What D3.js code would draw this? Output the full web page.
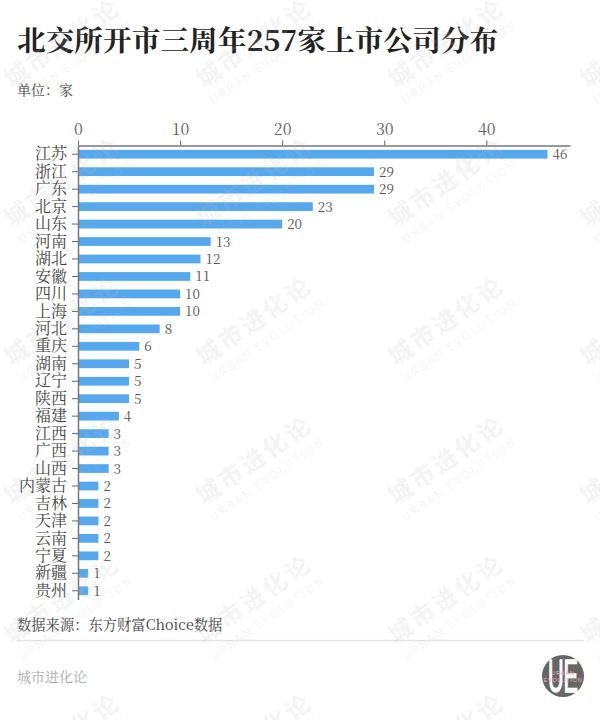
<!DOCTYPE html>
<html>
<head>
<meta charset="utf-8">
<script src="https://cdn.jsdelivr.net/npm/d3@7"></script>
<style>
    html, body { margin: 0; padding: 0; background: #fff; }
    svg { display: block; }
    text { font-family: "Noto Serif CJK SC", "Liberation Serif", "DejaVu Serif", "Noto Sans CJK SC", serif; }
</style>
</head>
<body>
<div id="chart"></div>
<script>
    const provinces = ["江苏", "浙江", "广东", "北京", "山东", "河南", "湖北", "安徽", "四川", "上海", "河北", "重庆", "湖南", "辽宁", "陕西", "福建", "江西", "广西", "山西", "内蒙古", "吉林", "天津", "云南", "宁夏", "新疆", "贵州"];
    const companies = [46, 29, 29, 23, 20, 13, 12, 11, 10, 10, 8, 6, 5, 5, 5, 4, 3, 3, 3, 2, 2, 2, 2, 2, 1, 1];
    const xTicks = [0, 10, 20, 30, 40];

    const titleText = "北交所开市三周年257家上市公司分布";
    const unitText = "单位：家";
    const sourceText = "数据来源：东方财富Choice数据";
    const brandText = "城市进化论";
    const brandEnglish = "URBAN EVOLUTION";

    const width = 600, height = 720;
    const sansFont = "'Noto Sans CJK SC', 'Liberation Sans', sans-serif";
    const svg = d3.select("#chart").append("svg").attr("width", width).attr("height", height);

    svg.append("text").attr("x", 17).attr("y", 51).attr("font-size", 28.7).attr("font-weight", 700)
        .attr("fill", "#222").text(titleText);
    svg.append("text").attr("x", 17).attr("y", 95).attr("font-size", 14).attr("fill", "#444").text(unitText);

    const x = d3.scaleLinear().domain([0, 48.2]).range([78, 570]);
    const y = d3.scaleBand().domain(provinces).range([145.5, 599.5]).paddingInner(0.5).paddingOuter(0.25);

    svg.append("g").selectAll("rect").data(companies).join("rect")
        .attr("x", x(0))
        .attr("y", function(d, i) { return y(provinces[i]); })
        .attr("width", function(d) { return x(d) - x(0); })
        .attr("height", y.bandwidth())
        .attr("fill", "#55a8ee");

    svg.append("g").selectAll("text").data(companies).join("text")
        .attr("x", function(d) { return x(d) + 5; })
        .attr("y", function(d, i) { return y(provinces[i]) + y.bandwidth() / 2 + 5; })
        .attr("font-size", 13.5).attr("fill", "#555")
        .text(function(d) { return d; });

    const xAxis = svg.append("g").attr("transform", "translate(0,145.5)")
        .call(d3.axisTop(x).tickValues(xTicks).tickSize(5).tickSizeOuter(0).tickPadding(6));
    xAxis.select(".domain").attr("stroke", "#777").attr("stroke-width", 1.5);
    xAxis.selectAll(".tick line").attr("stroke", "#666");
    xAxis.selectAll(".tick text").attr("font-size", 16).attr("fill", "#666");

    const yAxis = svg.append("g").attr("transform", "translate(78,0)")
        .call(d3.axisLeft(y).tickSize(6).tickSizeOuter(0).tickPadding(5));
    yAxis.select(".domain").attr("stroke", "#777").attr("stroke-width", 1.5);
    yAxis.selectAll(".tick line").attr("stroke", "#666");
    yAxis.selectAll(".tick text").attr("font-size", 16).attr("fill", "#444");

    svg.append("text").attr("x", 17).attr("y", 630).attr("font-size", 14.3).attr("fill", "#444").text(sourceText);
    svg.append("line").attr("x1", 17).attr("x2", 584).attr("y1", 640.5).attr("y2", 640.5)
        .attr("stroke", "#e6e6e6").attr("stroke-width", 1.5);
    svg.append("text").attr("x", 17).attr("y", 682).attr("font-size", 14).attr("fill", "#aaa").text(brandText);

    // round logo, bottom right
    const logo = svg.append("g").attr("transform", "translate(563,676)");
    logo.append("circle").attr("r", 21).attr("fill", "#666");
    logo.append("text").attr("text-anchor", "middle").attr("transform", "translate(0,16) scale(0.47,1)")
        .attr("font-size", 46).attr("fill", "#fff").attr("stroke", "#fff").attr("stroke-width", 1.5)
        .style("font-family", "'Liberation Sans', sans-serif").text("UE");
    logo.selectAll("text.pink").data(brandEnglish.split(" ")).join("text")
        .attr("class", "pink").attr("text-anchor", "middle")
        .attr("y", function(d, i) { return i * 7 - 1; })
        .attr("font-size", 5.5).attr("letter-spacing", 0.8).attr("fill", "#e6a8c0")
        .style("font-family", "'Liberation Sans', sans-serif").text(function(d) { return d; });

    // watermark grid goes over the chart, it also tints the bars a little
    const marks = svg.append("g").attr("pointer-events", "none");
    d3.range(6).forEach(function(row) {
        d3.range(4).forEach(function(col) {
            const g = marks.append("g")
                .attr("transform", "translate(" + (67 + col * 192) + "," + (50 + row * 139) + ") rotate(-35)");
            g.append("text").attr("text-anchor", "middle").attr("font-size", 24).attr("font-weight", 700)
                .attr("letter-spacing", 3).attr("fill", "rgba(190,190,190,0.17)")
                .style("font-family", sansFont).text(brandText);
            g.append("text").attr("text-anchor", "middle").attr("y", 19).attr("font-size", 11.5)
                .attr("letter-spacing", 2.2).attr("fill", "rgba(190,190,190,0.17)")
                .style("font-family", sansFont).text(brandEnglish);
        });
    });
</script>
</body>
</html>
